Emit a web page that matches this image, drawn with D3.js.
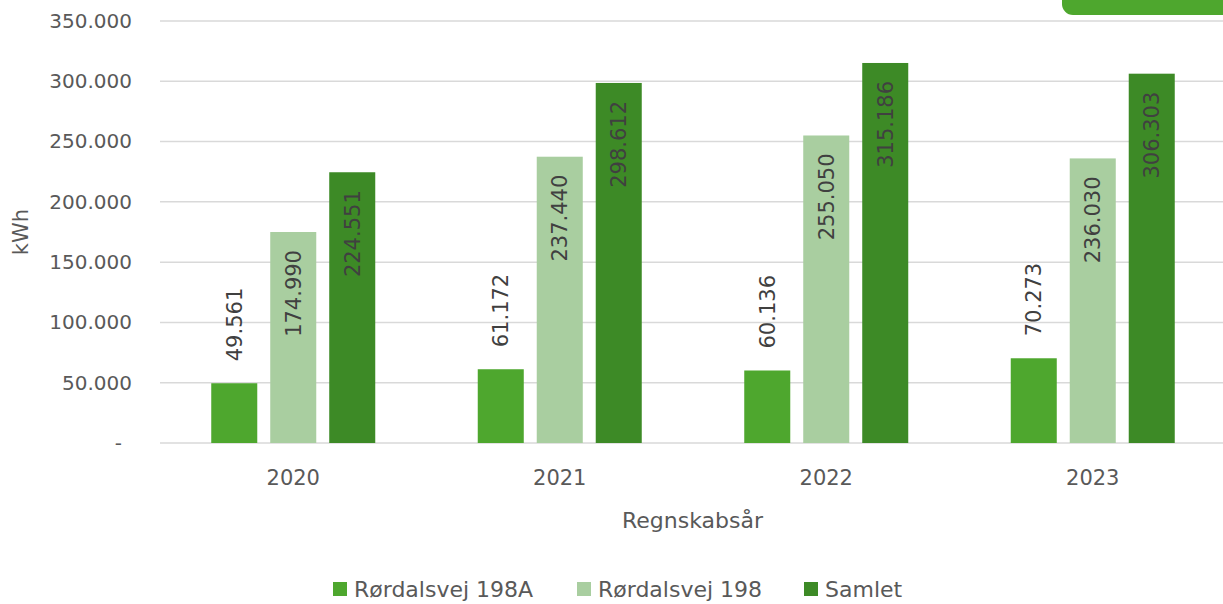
<!DOCTYPE html>
<html>
<head>
<meta charset="utf-8">
<script src="https://cdn.jsdelivr.net/npm/d3@7"></script>
<style>
  body { margin: 0; background: #fff; }
  text { font-family: "DejaVu Sans", "Liberation Sans", sans-serif; }
</style>
</head>
<body>
<div id="chart"></div>
<script>
// data
var years = ["2020", "2021", "2022", "2023"];
var seriesNames = ["Rørdalsvej 198A", "Rørdalsvej 198", "Samlet"];
var rordalsvej198A = [49561, 61172, 60136, 70273];
var rordalsvej198 = [174990, 237440, 255050, 236030];
var samlet = [224551, 298612, 315186, 306303];
var yTicks = [0, 50000, 100000, 150000, 200000, 250000, 300000, 350000];
var colors = ["#4ea72e", "#a9cea0", "#3d8a26"];

var svgWidth = 1223, svgHeight = 604;
var margin = { top: 21, right: -3, bottom: 161, left: 160 };
var width = svgWidth - margin.left - margin.right;
var height = svgHeight - margin.top - margin.bottom;

var svg = d3.select("#chart").append("svg").attr("width", svgWidth).attr("height", svgHeight);
var chartGroup = svg.append("g").attr("transform", `translate(${margin.left},${margin.top})`);

var allSeries = [rordalsvej198A, rordalsvej198, samlet];

var x0 = d3.scaleBand().domain(years).range([0, width]);
var x1 = d3.scaleBand().domain(seriesNames).range([0, 164]).paddingInner(0.22);
var y = d3.scaleLinear().domain([0, 350000]).range([height, 0]);

var fmt = function(v) {
  if (v === 0) return "-";
  return d3.format(",")(v).replace(/,/g, ".");
};

// gridlines
chartGroup.append("g").selectAll("line").data(yTicks).enter().append("line")
  .attr("x1", 0).attr("x2", width)
  .attr("y1", d => y(d)).attr("y2", d => y(d))
  .attr("stroke", "#d9d9d9").attr("stroke-width", 1.5);

// y axis labels
var leftAxis = d3.axisLeft(y).tickValues(yTicks).tickFormat(fmt).tickSize(0).tickPadding(28);
var yAxisG = chartGroup.append("g").call(leftAxis);
yAxisG.select(".domain").remove();
yAxisG.selectAll("text").attr("fill", "#595959").style("font-size", "20px")
  .attr("dx", d => d === 0 ? -10 : 0);

// x axis labels
var bottomAxis = d3.axisBottom(x0).tickSize(0).tickPadding(27);
var xAxisG = chartGroup.append("g").attr("transform", `translate(0,${height})`).call(bottomAxis);
xAxisG.select(".domain").remove();
xAxisG.selectAll("text").attr("fill", "#595959").style("font-size", "21px");

// bars
var groups = chartGroup.selectAll(".yr").data(years).enter().append("g")
  .attr("transform", d => `translate(${x0(d) + x0.bandwidth() / 2 - 82},0)`);

groups.each(function(yr, i) {
  var g = d3.select(this);
  seriesNames.forEach(function(name, s) {
    var v = allSeries[s][i];
    var bx = x1(name), bw = x1.bandwidth();
    g.append("rect")
      .attr("x", bx).attr("y", y(v))
      .attr("width", bw).attr("height", height - y(v))
      .attr("fill", colors[s]);
    var lx = bx + bw / 2;
    var ly, anchor;
    if (s === 0) { ly = y(v) - 22; anchor = "start"; }
    else { ly = y(v) + 18; anchor = "end"; }
    g.append("text")
      .attr("transform", `translate(${lx},${ly}) rotate(-90)`)
      .attr("text-anchor", anchor)
      .attr("dy", "0.35em")
      .attr("fill", "#404040")
      .style("font-size", "21px")
      .text(fmt(v));
  });
});

// axis titles
chartGroup.append("text")
  .attr("transform", `translate(${-139},${height / 2}) rotate(-90)`)
  .attr("text-anchor", "middle").attr("dy", "0.35em")
  .attr("fill", "#595959").style("font-size", "21px")
  .text("kWh");

chartGroup.append("text")
  .attr("transform", `translate(${(1223 - margin.left) / 2 + 1}, ${height + 77})`)
  .attr("text-anchor", "middle").attr("dy", "0.35em")
  .attr("fill", "#595959").style("font-size", "22px")
  .text("Regnskabsår");

// legend
var legendX = [333, 577, 804];
var legend = svg.append("g");
seriesNames.forEach(function(name, s) {
  legend.append("rect").attr("x", legendX[s]).attr("y", 582).attr("width", 14).attr("height", 14).attr("fill", colors[s]);
  legend.append("text").attr("x", legendX[s] + 21).attr("y", 597)
    .attr("fill", "#595959").style("font-size", "22px").text(name);
});

// cut-off green tag in the top right corner
svg.append("rect").attr("x", 1062).attr("y", -30).attr("width", 200).attr("height", 45)
  .attr("rx", 11).attr("fill", "#4ea72e");
</script>
</body>
</html>
